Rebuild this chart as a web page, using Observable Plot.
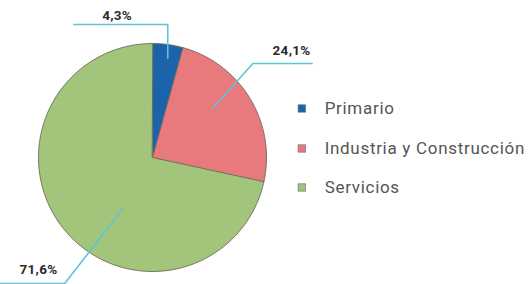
<!DOCTYPE html>
<html>
<head>
<meta charset="utf-8">
<script src="https://cdn.jsdelivr.net/npm/d3@7"></script>
<script src="https://cdn.jsdelivr.net/npm/@observablehq/plot@0.6"></script>
<style>
  html, body { margin: 0; padding: 0; background: #fff; }
  #chart svg { display: block; }
  .lbl text { letter-spacing: 0.3px; }
  .leg text { letter-spacing: 0.7px; }
</style>
</head>
<body>
<div id="chart"></div>
<script>
// ---- data ----
const categories = ["Primario", "Industria y Construcción", "Servicios"];
const values = [4.3, 24.1, 71.6];
const valueLabels = ["4,3%", "24,1%", "71,6%"];
const colors = ["#1b63aa", "#e8797d", "#a3c47b"];

// ---- layout (unit circle coordinates, radius = 1) ----
const leaderRadius = [0.88, 0.68, 0.52];      // where leader starts inside slice
const leaderAngleOffset = [1, -8, -21];        // degrees relative to slice mid-angle
const elbow = [[null, 1.167], [0.88, 0.825], [-0.77, -1.105]];
const leaderEndX = [-0.69, 1.40, -1.40];
const labelPos = [[-0.31, 1.24], [1.22, 0.94], [-1.0, -0.985]];
const legendY = [0.43, 0.079, -0.263];

const pie = d3.pie().sort(null).value(d => d)(values);

const slices = [];
pie.forEach((p, i) => {
  slices.push({cat: categories[i], x: 0, y: 0});
  const steps = Math.max(2, Math.ceil((p.endAngle - p.startAngle) / (Math.PI / 180)));
  for (let k = 0; k <= steps; k++) {
    const a = p.startAngle + (p.endAngle - p.startAngle) * k / steps;
    slices.push({cat: categories[i], x: Math.sin(a), y: Math.cos(a)});
  }
});

const leaders = [];
pie.forEach((p, i) => {
  const a = (p.startAngle + p.endAngle) / 2 + leaderAngleOffset[i] * Math.PI / 180;
  const sx = leaderRadius[i] * Math.sin(a), sy = leaderRadius[i] * Math.cos(a);
  const ex = elbow[i][0] == null ? sx : elbow[i][0];
  const ey = elbow[i][1];
  leaders.push({id: i, x: sx, y: sy});
  leaders.push({id: i, x: ex, y: ey});
  leaders.push({id: i, x: leaderEndX[i], y: ey});
});

const labelData = valueLabels.map((t, i) => ({t, x: labelPos[i][0], y: labelPos[i][1]}));
const legendData = categories.map((c, i) => ({c, y: legendY[i]}));

const R = 114, CX = 152, CY = 157;
const chart = Plot.plot({
  width: 532,
  height: 284,
  margin: 0,
  style: {background: "#fff"},
  x: {domain: [-1, 1], range: [CX - R, CX + R], axis: null},
  y: {domain: [-1, 1], range: [CY + R, CY - R], axis: null},
  color: {domain: categories, range: colors},
  marks: [
    Plot.line(slices, {x: "x", y: "y", z: "cat", fill: "cat", stroke: "#6a6a58", strokeWidth: 0.9, curve: "linear-closed"}),
    Plot.line(leaders, {x: "x", y: "y", z: "id", stroke: "#5ec5d6", strokeWidth: 1.6}),
    Plot.text(labelData, {x: "x", y: "y", text: "t", className: "lbl", fontFamily: "Roboto, sans-serif", fontWeight: "bold", fontSize: 13.5, fill: "#2b2b2b"}),
    Plot.dot(legendData, {x: () => 1.31, y: "y", symbol: "square", r: 4.2, fill: "c", stroke: "#666", strokeWidth: 0.6}),
    Plot.text(legendData, {x: () => 1.51, y: "y", text: "c", className: "leg", textAnchor: "start", fontFamily: "Roboto, sans-serif", fontSize: 17, fill: "#555"})
  ]
});
document.getElementById("chart").appendChild(chart);
</script>
</body>
</html>
